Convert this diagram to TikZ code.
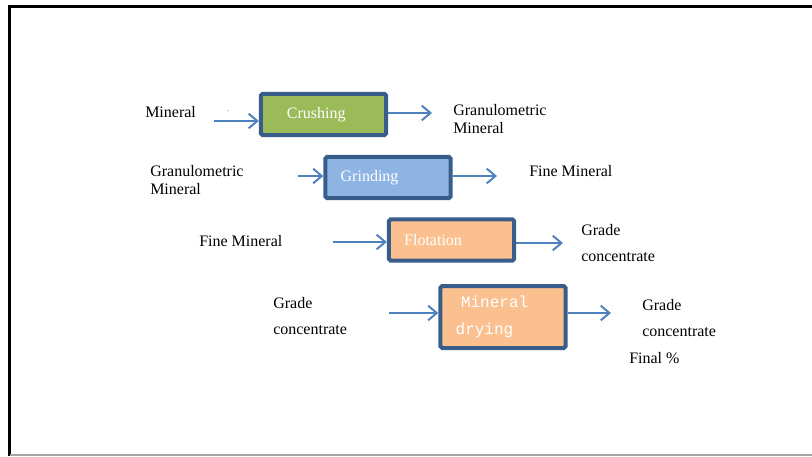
\documentclass[tikz,border=0pt]{standalone}
\usepackage{fontspec}
\setmainfont{Liberation Serif}
\setmonofont{Liberation Mono}
\usepackage{tikz}
\usetikzlibrary{positioning,arrows.meta}
\definecolor{borderColor}{RGB}{56,93,138}
\definecolor{arrowColor}{RGB}{79,129,189}
\definecolor{crushColor}{RGB}{155,187,89}
\definecolor{grindColor}{RGB}{142,180,227}
\definecolor{floatColor}{RGB}{250,192,144}
\tikzstyle{sheet} = [x = 0.75pt, y = -0.75pt, font=\fontsize{12}{14}\selectfont]
\tikzstyle{stageBox} = [draw=borderColor, line width=3pt, rounded corners=.05cm, minimum width=94pt, minimum height=31pt, text=white, align=left, inner xsep=11.5pt, text width=71pt]
\tikzstyle{flowArrow} = [draw=arrowColor, line width=1.5pt, -{Straight Barb[length=6.5pt, width=11pt, line width=1.5pt]}]
\tikzstyle{stageText} = [anchor=west, inner sep=0pt, align=left]
\newcommand{\stageBox}[5]{\node [stageBox, fill=#4] (#1) at (#2, #3) {#5};}
\newcommand{\inArrow}[3]{\coordinate (#1) at (#2); \draw [flowArrow] (#1) -- (#1 -| #3.west);}
\newcommand{\outArrow}[3]{\coordinate (#1) at (#2); \draw [flowArrow] (#3.east |- #1) -- (#1);}

\begin{document}
\begin{tikzpicture}[sheet]
  \useasboundingbox (0,0) rectangle (812,456);
  % frame
  \draw [line width=2.2pt] (9.5,456) -- (9.5,6.5) -- (812,6.5);
  \draw [gray!70, line width=0.8pt] (9.5,455) -- (812,455);

  % stages
  \stageBox{crushing}{323.5}{114.5}{crushColor}{\hspace*{8pt}Crushing}
  \stageBox{grinding}{388}{177.5}{grindColor}{Grinding}
  \stageBox{flotation}{451.5}{240}{floatColor}{Flotation}
  \node [stageBox, fill=floatColor, minimum height=46.5pt] (drying) at (503,317)
    {\ttfamily\hspace*{4pt}Mineral\\[6pt]\ttfamily drying};

  % arrows
  \inArrow{in1}{214,121}{crushing}
  \outArrow{out1}{432,113}{crushing}
  \inArrow{in2}{298,176}{grinding}
  \outArrow{out2}{497,176}{grinding}
  \inArrow{in3}{333,242}{flotation}
  \outArrow{out3}{563,243}{flotation}
  \inArrow{in4}{389,313}{drying}
  \outArrow{out4}{611,313}{drying}

  % labels
  \node [stageText] (mineralLabel) at (145,112) {Mineral};
  \node [stageText, font=\tiny] (dotLabel) at (227,111) {.};
  \node [stageText] (granuOut) at (453,119) {Granulometric\\Mineral};
  \node [stageText] (granuIn) at (150,180) {Granulometric\\Mineral};
  \node [stageText] (fineOut) at (529,171) {Fine Mineral};
  \node [stageText] (fineIn) at (199,241) {Fine Mineral};
  \node [stageText] (gradeOut) at (581,243) {Grade\\[6pt]concentrate};
  \node [stageText] (gradeIn) at (273,316) {Grade\\[6pt]concentrate};
  \node [stageText] (gradeFinal) at (642,318) {Grade\\[6pt]concentrate};
  \node [stageText] (finalPct) at (629,358) {Final \%};
\end{tikzpicture}
\end{document}
